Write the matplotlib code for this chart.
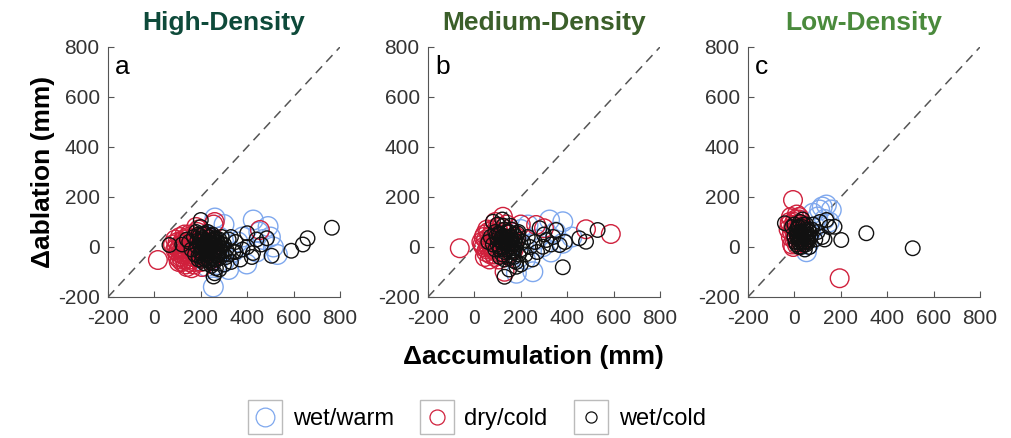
import matplotlib.pyplot as plt
from matplotlib.lines import Line2D
from matplotlib.legend_handler import HandlerTuple

plt.rcParams['font.family'] = ['Liberation Sans', 'DejaVu Sans']
plt.rcParams['axes.unicode_minus'] = False

# --- Panel titles / labels ---
titles = ['High-Density', 'Medium-Density', 'Low-Density']
title_colors = ['#0e4a3a', '#3b5f2a', '#4a8a3c']
panel_letters = ['a', 'b', 'c']
classes = ['wet/warm', 'dry/cold', 'wet/cold']
ticks = [-200, 0, 200, 400, 600, 800]

# --- Panel a (high density): (d_accumulation, d_ablation) in mm ---
warm_a_x = [261, 426, 490, 254, 513, 530, 398, 225, 300, 340, 360, 440, 470, 280, 300, 250, 320, 500, 380, 200, 270, 450]
warm_a_y = [116, 108, 82, -160, 0, -30, -68, -79, -60, -20, 20, -20, 30, 40, 90, -40, -90, 40, 40, -30, -70, 60]
dry_a_x = [15, 80, 90, 100, 100, 110, 110, 120, 120, 130, 130, 140, 140, 150, 150, 150, 160, 160, 170, 170, 180, 180,
           190, 190, 200, 200, 210, 220, 230, 240, 180, 260, 455, 120, 140, 160, 100, 90, 130, 110, 205, 245, 255,
           95, 105, 115, 125, 135, 145, 155, 165, 175, 185, 195, 105, 115, 125, 135, 145, 155, 165, 175, 185,
           120, 140, 160, 180, 200, 130, 150, 170]
dry_a_y = [-52, 10, -10, 20, -20, 0, 40, -30, 20, -50, 10, 30, -20, 0, 50, -60, -30, 20, -70, 0, 40, -40,
           -10, 70, -60, 20, -30, 40, -20, 10, 80, 100, 68, -60, -80, -85, -40, 30, 50, -50, -80, -50, 90,
           0, -10, 10, -20, 20, -30, 10, -40, 20, -20, 0, -60, -40, 30, -70, 40, -50, 30, -60, 60,
           -10, -20, -40, 10, -40, -30, -10, -20]
cold_a_x = [200, 210, 220, 230, 240, 250, 260, 215, 225, 235, 245, 255, 265, 205, 195, 185, 270, 275, 280, 190, 200,
            180, 170, 230, 250, 260, 240, 220, 210, 290, 300, 310, 320, 340, 330, 300, 280, 260, 255, 290, 350, 370,
            400, 400, 425, 485, 505, 590, 640, 660, 765, 65, 200, 150, 160, 175, 140, 120, 350, 380, 420, 460, 440,
            330, 310, 320, 215, 235, 245, 225, 250, 205,
            190, 200, 210, 220, 230, 240, 250, 260, 270, 280, 195, 205, 215, 225, 235, 245, 255, 265, 275, 285,
            200, 210, 220, 230, 240, 250, 260, 270, 205, 215, 225, 235, 245, 255, 265, 185, 290, 300, 190, 280]
cold_a_y = [0, 10, -10, 20, 0, -20, 10, 30, -30, 40, -40, 30, -10, -20, 20, 0, 20, -30, 0, 50, 80,
            60, 40, 60, 50, -50, -60, -50, 50, -20, 10, -40, 30, -20, -60, -70, -90, -105, -118, 40, 20, -50,
            0, 55, -24, 35, -35, -15, 10, 35, 77, 8, 108, 20, -10, -30, 30, 10, -20, -10, -40, 10, 30,
            40, -10, -30, 5, -5, 15, -15, 25, 35,
            -35, -25, -45, -15, -35, -5, -45, -25, -35, -45, 45, 35, 55, 25, 15, 45, 5, 35, 15, -5,
            5, -5, 15, -25, 25, -15, 35, -15, -55, -65, -45, -55, -75, -65, -85, 25, 10, -30, -50, 30]

# --- Panel b (medium density) ---
warm_b_x = [231, 324, 381, 381, 252, 181, 295, 350, 270, 200, 420, 330, 220]
warm_b_y = [88, 108, 101, 15, -99, -105, 1, 60, 30, 70, 40, -20, -50]
dry_b_x = [-63, 588, 481, 266, 300, 130, 123, 30, 40, 40, 50, 50, 60, 60, 70, 70, 80, 80, 90, 90, 100, 100, 110,
           110, 120, 130, 140, 140, 150, 160, 170, 180, 200, 90,
           35, 45, 55, 65, 75, 85, 95, 105, 115, 125, 45, 55, 65, 75, 85, 95, 105, 115, 60, 80, 100, 120]
dry_b_y = [-5, 52, 71, 88, 75, -99, 121, 20, 0, 40, -20, 30, 60, 0, -30, 20, 70, -10, 40, -40, 10, 80, -20,
           40, 60, 0, -30, 90, 30, 60, -10, 40, 90, 100,
           10, 50, -10, 40, 0, 20, -20, 60, 0, 30, -40, 70, -50, 50, -30, 50, -50, 80, 10, 30, 30, 10]
cold_b_x = [60, 70, 80, 90, 90, 100, 100, 110, 110, 120, 120, 130, 130, 140, 140, 150, 150, 160, 160, 170, 170, 180,
            180, 190, 200, 210, 220, 230, 240, 250, 260, 270, 281, 295, 310, 330, 352, 367, 381, 452, 481, 531, 130,
            181, 80, 120, 200, 150, 300, 340, 390, 145, 135, 125, 155, 165, 115, 175,
            100, 110, 120, 130, 140, 150, 160, 170, 180, 190, 105, 115, 125, 135, 145, 155, 165, 175, 185,
            110, 130, 150, 170, 190, 95, 125, 155, 185]
cold_b_y = [20, 40, 10, -10, 60, 30, 90, 0, 50, -30, 20, 70, -10, 20, 40, -20, 60, 0, 30, -40, 50, 10,
            -60, 30, -10, 20, -30, 40, 0, -50, 20, -20, 75, 1, 28, 10, 68, 8, -81, 35, 21, 68, -119,
            -79, 101, 110, -70, -90, 50, 40, 20, 10, 30, 0, 40, 15, 35, -5,
            10, -10, 40, -20, 60, 10, 70, -20, 40, -30, 55, 25, 45, 15, -5, 25, -15, 25, 55,
            -40, -50, -45, -55, 60, 45, 85, 85, 20]

# --- Panel c (low density) ---
warm_c_x = [109, 159, 80, 138, 100, 130, 150, 52, 60, 90, 120, 70]
warm_c_y = [148, 148, 135, 168, 120, 110, 100, -19, 10, 80, 160, 60]
dry_c_x = [195, -6, 10, 20, -20, -10, 0, 0, 10, 10, 20, -5, 30, -15, 5, 25, -25,
           -15, -5, 5, 15, 25, -10, 0, 10, 20, -20]
dry_c_y = [-125, 188, 130, 110, 90, 60, 30, 100, 10, 70, 40, 0, 90, 120, 50, 20, 70,
           40, 80, 110, 60, 80, 10, 60, 90, 120, 100]
cold_c_x = [510, 310, 202, 173, 138, -41, 0, 10, 20, 20, 30, 30, 40, 40, 50, 50, 60, 60, 70, 80, 90, 100, 120, 130,
            150, 0, 10, 25, 45, 35, -10, 110, 15, 55, 65, 30, 40, 20,
            5, 15, 25, 35, 45, 55, 65, 75, 10, 20, 30, 40, 50, 60, 20, 40, 60, 30, 50, 15]
cold_c_y = [-5, 55, 28, 81, 108, 95, 90, 70, 50, 20, 0, 60, 30, 90, 10, 50, 70, 20, 40, 90, 30, 60, 40, 30,
            80, 40, 10, 100, -10, 110, 80, 100, 80, 30, 0, 40, 60, 30,
            20, 40, 60, 80, 20, 40, 60, 70, 50, 80, 30, 50, 70, 30, 0, 10, 50, 20, 90, 60]

panels = [
    (warm_a_x, warm_a_y, dry_a_x, dry_a_y, cold_a_x, cold_a_y),
    (warm_b_x, warm_b_y, dry_b_x, dry_b_y, cold_b_x, cold_b_y),
    (warm_c_x, warm_c_y, dry_c_x, dry_c_y, cold_c_x, cold_c_y),
]

c_warm, c_dry, c_cold = '#7fa8ee', '#d0203c', '#111111'
s_warm, s_dry, s_cold = 200, 180, 110

fig = plt.figure(figsize=(10.12, 4.38), dpi=100)
lefts = [108 / 1012, 428 / 1012, 748 / 1012]

for i, (wx, wy, dx, dy, kx, ky) in enumerate(panels):
    ax = fig.add_axes([lefts[i], 141 / 438, 232 / 1012, 250 / 438])
    ax.plot([-200, 800], [-200, 800], ls=(0, (6, 4)), color='#555555', lw=1.1, zorder=1)
    ax.scatter(wx, wy, s=s_warm, facecolors='none', edgecolors=c_warm, linewidths=1.0, zorder=2)
    ax.scatter(dx, dy, s=s_dry, facecolors='none', edgecolors=c_dry, linewidths=1.0, zorder=3)
    ax.scatter(kx, ky, s=s_cold, facecolors='none', edgecolors=c_cold, linewidths=1.0, zorder=4)
    ax.set_xlim(-200, 800)
    ax.set_ylim(-200, 800)
    ax.set_xticks(ticks)
    ax.set_yticks(ticks)
    ax.tick_params(direction='in', length=4, color='#555555', labelcolor='#333333', labelsize=15)
    ax.tick_params(axis='x', pad=9)
    ax.tick_params(axis='y', pad=6)
    for side in ['top', 'right']:
        ax.spines[side].set_visible(False)
    for side in ['left', 'bottom']:
        ax.spines[side].set_color('#555555')
    ax.text(-170, 720, panel_letters[i], fontsize=19, color='black', va='center', ha='left')
    ax.set_title(titles[i], fontsize=19, fontweight='bold', color=title_colors[i], pad=12)
    if i == 0:
        ax.set_ylabel('\u0394ablation (mm)', fontsize=19, fontweight='bold', labelpad=2)

fig.text(0.527, 1 - 357 / 438, '\u0394accumulation (mm)', fontsize=19, fontweight='bold',
         ha='center', va='center')

# --- Legend: each marker inside its own grey box ---
handles = []
for col, ms in zip([c_warm, c_dry, c_cold], [13.5, 10.8, 8.0]):
    box = Line2D([], [], marker='s', markersize=25, mfc='none', mec='#bbbbbb', mew=1.0, ls='none')
    circ = Line2D([], [], marker='o', markersize=ms, mfc='none', mec=col, mew=0.9, ls='none')
    handles.append((box, circ))

fig.legend(handles, classes, loc='center', bbox_to_anchor=(0.471, 1 - 419 / 438), ncol=3,
           frameon=False, fontsize=17, handler_map={tuple: HandlerTuple(ndivide=1, pad=0)},
           handlelength=1.5, handletextpad=0.4, columnspacing=1.1)

plt.savefig('out.png', dpi=100)
